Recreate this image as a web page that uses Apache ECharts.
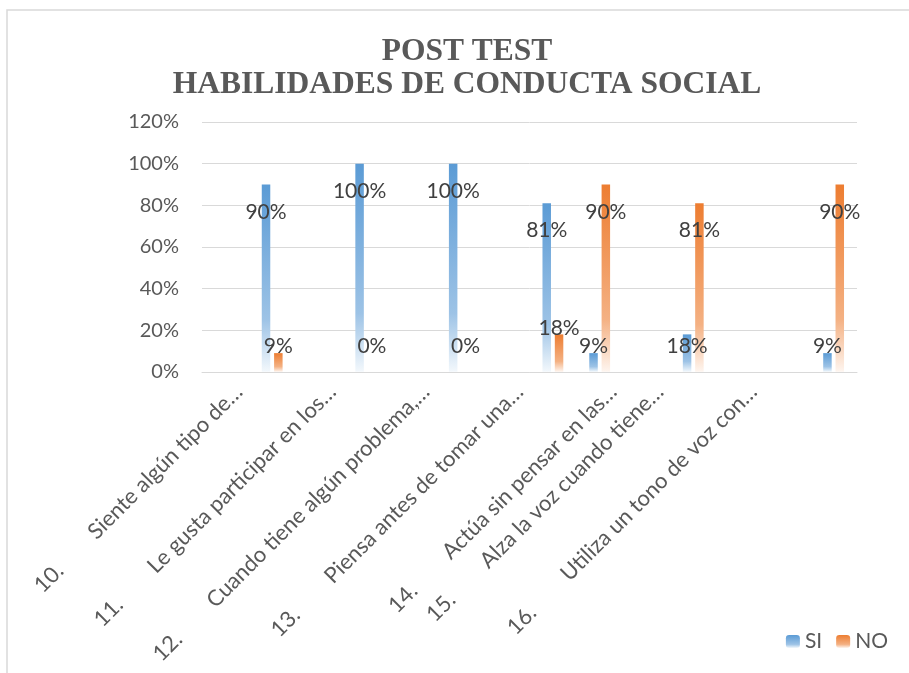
<!DOCTYPE html>
<html><head><meta charset="utf-8">
<script src="https://cdn.jsdelivr.net/npm/echarts/dist/echarts.min.js"></script>
<style>html,body{margin:0;padding:0;background:#fff}#c{width:909px;height:673px}</style>
</head><body><div id="c"></div>
<script>
const titleLines = ['POST TEST', 'HABILIDADES DE CONDUCTA SOCIAL'];
const gap = '        ';
const categories = [
  '10.' + gap + 'Siente algún tipo de…', '',
  '11.' + gap + 'Le gusta participar en los…', '',
  '12.' + gap + 'Cuando tiene algún problema,…', '',
  '13.' + gap + 'Piensa antes de tomar una…', '',
  '14.' + gap + 'Actúa sin pensar en las…',
  '15.' + gap + 'Alza la voz cuando tiene…', '',
  '16.' + gap + 'Utiliza un tono de voz con…', '', ''
];
const seriesNames = ['SI', 'NO'];
const siValues = [null, 90, null, 100, null, 100, null, 81, 9, null, 18, null, null, 9];
const noValues = [null, 9, null, 0, null, 0, null, 18, 90, null, 81, null, null, 90];
const yMin = 0, yMax = 120, yStep = 20;

const font = 'Lato, "Open Sans", sans-serif';
function grad(c0, c1, c2) {
  return new echarts.graphic.LinearGradient(0, 0, 0, 1, [
    {offset: 0, color: c0}, {offset: 0.72, color: c1}, {offset: 1, color: c2}
  ]);
}
const colors = [grad('#5B9BD5', '#9DC3E6', '#F3F8FC'), grad('#ED7D31', '#F4B183', '#FEF5EF')];
function labelFor(v, seriesIndex) {
  if (v >= 50) return {position: 'insideTop', distance: 17};
  if (seriesIndex === 1 && v > 0) return {position: 'top', distance: -4};
  return {position: 'insideBottom', distance: 15};
}
function toData(arr, si) {
  return arr.map(v => v === null ? null : {value: v, label: labelFor(v, si)});
}
const chart = echarts.init(document.getElementById('c'));
chart.setOption({
  animation: false,
  title: {
    text: titleLines.join('\n'), left: 462, top: 30, textAlign: 'center',
    textStyle: {fontFamily: '"Liberation Serif", serif', fontWeight: 'bold', fontSize: 31.5, lineHeight: 33, color: '#595959'}
  },
  graphic: [{type: 'rect', shape: {x: 7, y: 10, width: 950, height: 700}, style: {fill: 'none', stroke: '#d9d9d9', lineWidth: 1.5}, silent: true}],
  legend: {
    data: seriesNames, right: 16, top: 626, itemWidth: 14, itemHeight: 13, itemGap: 14,
    textStyle: {fontFamily: font, fontSize: 21, color: '#595959'}
  },
  grid: {left: 202, right: 52, top: 122, bottom: 301},
  xAxis: {
    type: 'category', data: categories,
    axisTick: {show: false},
    axisLine: {lineStyle: {color: '#d9d9d9', width: 1}},
    axisLabel: {interval: 0, rotate: 45, fontFamily: font, fontSize: 22, color: '#595959', verticalAlign: 'top', lineHeight: 38, margin: 3}
  },
  yAxis: {
    type: 'value', min: yMin, max: yMax, interval: yStep,
    axisLine: {show: false}, axisTick: {show: false},
    axisLabel: {formatter: '{value}%', fontFamily: font, fontSize: 20, color: '#595959', margin: 23},
    splitLine: {lineStyle: {color: '#d9d9d9', width: 1}}
  },
  series: [siValues, noValues].map((vals, i) => ({
    name: seriesNames[i], type: 'bar', data: toData(vals, i),
    barWidth: 8.5, barGap: '45%',
    itemStyle: {color: colors[i]},
    label: {show: true, formatter: '{c}%', fontFamily: font, fontSize: 21, color: '#404040'}
  }))
});
</script></body></html>
